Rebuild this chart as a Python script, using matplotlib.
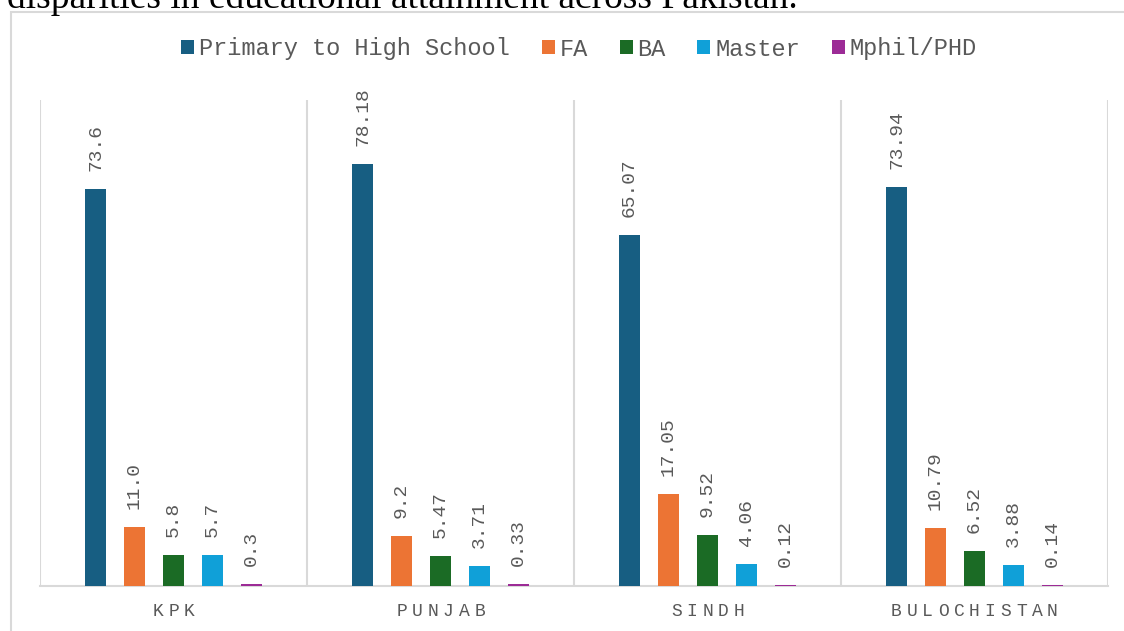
import numpy as np
import matplotlib.pyplot as plt
from matplotlib.patches import Rectangle

regions = ['KPK', 'PUNJAB', 'SINDH', 'BULOCHISTAN']
series = ['Primary to High School', 'FA', 'BA', 'Master', 'Mphil/PHD']
primary = [73.6, 78.18, 65.07, 73.94]
fa = [11.0, 9.2, 17.05, 10.79]
ba = [5.8, 5.47, 9.52, 6.52]
master = [5.7, 3.71, 4.06, 3.88]
mphil = [0.3, 0.33, 0.12, 0.14]
labels = [['73.6', '78.18', '65.07', '73.94'],
          ['11.0', '9.2', '17.05', '10.79'],
          ['5.8', '5.47', '9.52', '6.52'],
          ['5.7', '3.71', '4.06', '3.88'],
          ['0.3', '0.33', '0.12', '0.14']]
colors = ['#175E82', '#EC7434', '#1B6B25', '#10A0D8', '#9C2B96']

values = [primary, fa, ba, master, mphil]
grey = '#595959'
line_grey = '#D9D9D9'
mono = 'Liberation Mono'

fig = plt.figure(figsize=(11.24, 6.31), dpi=100)
W, H = 1124, 631

# caption text from the document, cut off at the top
fig.text(7 / W, 1 - 8 / H, 'disparities in educational attainment across Pakistan.',
         family='Liberation Serif', fontsize=27, va='baseline', ha='left', color='black')

# chart frame (right side falls outside the picture)
fig.patches.append(Rectangle((11 / W, -0.05), 1.1, (1 - 11.5 / H) + 0.05,
                             transform=fig.transFigure, fill=False,
                             edgecolor=line_grey, linewidth=1.5))

ax = fig.add_axes([40 / W, (H - 586) / H, (1108 - 40) / W, (586 - 100) / H])
x = np.arange(len(regions))
step = 0.146
width = 0.077
for i, (vals, col) in enumerate(zip(values, colors)):
    pos = x + (i - 2) * step
    ax.bar(pos, vals, width=width, color=col, label=series[i], zorder=3)
    for p, v, t in zip(pos, vals, labels[i]):
        ax.annotate(t, (p, v), xytext=(0, 13), textcoords='offset points',
                    rotation=90, ha='center', va='bottom',
                    family=mono, fontsize=14, color=grey)

ax.set_xlim(-0.5, len(regions) - 0.5)
ax.set_ylim(0, 90)
for s in ['top', 'right', 'left']:
    ax.spines[s].set_visible(False)
ax.spines['bottom'].set_color(line_grey)
ax.spines['bottom'].set_linewidth(1.5)
for b in np.arange(len(regions) + 1) - 0.5:
    ax.axvline(b, color=line_grey, linewidth=1.5, zorder=1)
ax.set_yticks([])
ax.set_xticks([])

# category labels with wide letter spacing
pitch = 15.6
for xi, name in zip(x, regions):
    n = len(name)
    for k, ch in enumerate(name):
        ax.annotate(ch, (xi, 0), xycoords=('data', 'axes fraction'),
                    xytext=((k - (n - 1) / 2) * pitch, -25), textcoords='offset pixels',
                    ha='center', va='center', family=mono, fontsize=13, color=grey)

leg = fig.legend(loc='center', bbox_to_anchor=(579 / W, 1 - 49 / H), ncol=5, frameon=False,
                 prop={'family': mono, 'size': 17}, handlelength=0.55, handleheight=0.55,
                 handletextpad=0.2, columnspacing=1.35)
for t in leg.get_texts():
    t.set_color(grey)

fig.savefig('out.png', dpi=100)
